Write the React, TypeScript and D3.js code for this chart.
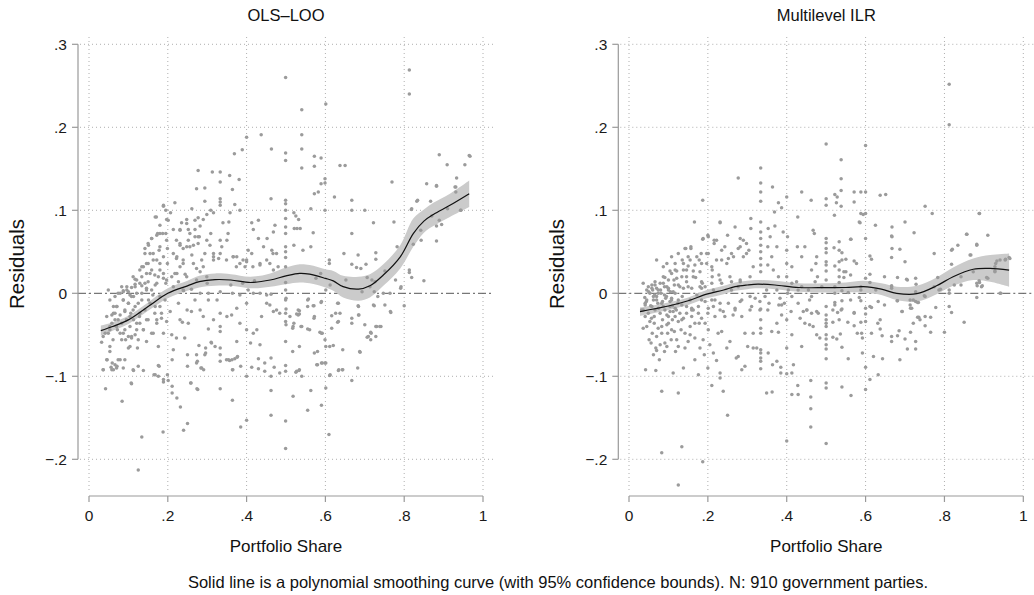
import React, { useEffect, useRef } from 'react';
import * as d3 from 'd3';

// tick values + labels (Stata style, leading zero dropped)
const xTicks = [0, 0.2, 0.4, 0.6, 0.8, 1];
const xTickLabels = ['0', '.2', '.4', '.6', '.8', '1'];
const yTicks = [-0.2, -0.1, 0, 0.1, 0.2, 0.3];
const yTickLabels = ['\u2212.2', '\u2212.1', '0', '.1', '.2', '.3'];

// OLS-LOO smoothing curve + 95% bounds
const olsFitX = [0.03, 0.06, 0.1, 0.15, 0.2, 0.25, 0.28, 0.32, 0.36, 0.41, 0.46, 0.5, 0.535, 0.56, 0.6, 0.62, 0.645, 0.684, 0.713, 0.747, 0.79, 0.823, 0.85, 0.874, 0.916, 0.965];
const olsFit = [-0.045, -0.04, -0.032, -0.016, 0, 0.009, 0.014, 0.0165, 0.016, 0.013, 0.016, 0.021, 0.024, 0.023, 0.018, 0.015, 0.008, 0.005, 0.009, 0.022, 0.044, 0.072, 0.087, 0.095, 0.106, 0.12];
const olsLo = [-0.051, -0.045, -0.037, -0.021, -0.006, 0.003, 0.007, 0.009, 0.009, 0.006, 0.008, 0.011, 0.013, 0.012, 0.007, 0.003, -0.005, -0.009, -0.005, 0.009, 0.03, 0.056, 0.073, 0.081, 0.092, 0.104];
const olsHi = [-0.039, -0.035, -0.027, -0.011, 0.006, 0.015, 0.021, 0.024, 0.023, 0.02, 0.024, 0.031, 0.035, 0.034, 0.029, 0.027, 0.021, 0.02, 0.023, 0.035, 0.058, 0.09, 0.101, 0.109, 0.12, 0.136];

// Multilevel ILR smoothing curve + 95% bounds
const ilrFitX = [0.028, 0.1, 0.15, 0.197, 0.24, 0.269, 0.3, 0.327, 0.37, 0.43, 0.497, 0.55, 0.594, 0.64, 0.679, 0.73, 0.78, 0.822, 0.873, 0.916, 0.964];
const ilrFit = [-0.022, -0.0153, -0.009, -0.001, 0.004, 0.008, 0.01, 0.011, 0.01, 0.007, 0.0068, 0.007, 0.008, 0.005, 0, -0.0005, 0.009, 0.02, 0.029, 0.03, 0.028];
const ilrLo = [-0.027, -0.02, -0.014, -0.006, -0.001, 0.003, 0.005, 0.006, 0.005, 0.002, 0.001, 0.001, 0.001, -0.002, -0.008, -0.01, -0.001, 0.009, 0.016, 0.014, 0.008];
const ilrHi = [-0.017, -0.011, -0.005, 0.004, 0.009, 0.013, 0.015, 0.016, 0.015, 0.012, 0.012, 0.013, 0.015, 0.012, 0.008, 0.009, 0.019, 0.031, 0.042, 0.046, 0.048];

// residuals: [portfolio share, residual]
const olsPoints = [
  [0.499, 0.26], [0.813, 0.269], [0.813, 0.24], [0.601, 0.228], [0.54, 0.221], [0.54, 0.191], [0.437, 0.191], [0.4, 0.188], [0.54, 0.174], [0.463, 0.174],
  [0.389, 0.173], [0.369, 0.168], [0.499, 0.169], [0.499, 0.16], [0.572, 0.165], [0.589, 0.163], [0.54, 0.151], [0.572, 0.153], [0.637, 0.154], [0.65, 0.154],
  [0.889, 0.167], [0.965, 0.166], [0.909, 0.155], [0.954, 0.155], [0.277, 0.148], [0.313, 0.146], [0.333, 0.146], [0.333, 0.134], [0.357, 0.142], [0.381, 0.137],
  [0.273, 0.126], [0.294, 0.127], [0.364, 0.125], [0.599, 0.138], [0.599, 0.133], [0.589, 0.132], [0.582, 0.122], [0.572, 0.12], [0.769, 0.134], [0.933, 0.139],
  [0.929, 0.128], [0.882, 0.13], [0.857, 0.132], [0.832, 0.111], [0.867, 0.111], [0.818, 0.101], [0.943, 0.1], [0.623, 0.116], [0.667, 0.112], [0.667, 0.1],
  [0.7, 0.1], [0.599, 0.1], [0.563, 0.102], [0.462, 0.114],
  [0.499, 0.112], [0.499, 0.108], [0.499, 0.1], [0.499, 0.09], [0.499, 0.08], [0.499, 0.072], [0.499, 0.056], [0.499, 0.05], [0.499, 0.043], [0.499, 0.032], [0.499, 0.013],
  [0.52, 0.097], [0.525, 0.093], [0.532, 0.089], [0.521, 0.078], [0.528, 0.078], [0.536, 0.078], [0.569, 0.073], [0.563, 0.056], [0.543, 0.052], [0.52, 0.058],
  [0.413, 0.085], [0.43, 0.088], [0.417, 0.077], [0.43, 0.066], [0.452, 0.066], [0.468, 0.074], [0.472, 0.082], [0.443, 0.056], [0.464, 0.052], [0.476, 0.048],
  [0.404, 0.052], [0.413, 0.048], [0.4, 0.038], [0.396, 0.032], [0.434, 0.034], [0.459, 0.036], [0.468, 0.028], [0.48, 0.032],
  [0.37, 0.107], [0.383, 0.1], [0.358, 0.097], [0.34, 0.085], [0.355, 0.086], [0.353, 0.072], [0.333, 0.064], [0.35, 0.064], [0.337, 0.056], [0.366, 0.044],
  [0.375, 0.044], [0.383, 0.036], [0.391, 0.04], [0.329, 0.042], [0.316, 0.04], [0.316, 0.048],
  [0.333, 0.114], [0.333, 0.11], [0.333, 0.106], [0.309, 0.1], [0.316, 0.097], [0.294, 0.111], [0.299, 0.095], [0.29, 0.089], [0.309, 0.072], [0.307, 0.058],
  [0.294, 0.048], [0.286, 0.04], [0.273, 0.03], [0.282, 0.026], [0.261, 0.046],
  [0.277, 0.091], [0.282, 0.081], [0.269, 0.077], [0.256, 0.072], [0.269, 0.068], [0.28, 0.068], [0.252, 0.064], [0.265, 0.058], [0.277, 0.06], [0.248, 0.056],
  [0.239, 0.054], [0.248, 0.089], [0.235, 0.085], [0.231, 0.077], [0.252, 0.077], [0.261, 0.102],
  [0.218, 0.109], [0.195, 0.1], [0.207, 0.097], [0.197, 0.089], [0.214, 0.077], [0.195, 0.072], [0.222, 0.064], [0.231, 0.058], [0.199, 0.054], [0.214, 0.048],
  [0.222, 0.042], [0.199, 0.036], [0.231, 0.032], [0.218, 0.024], [0.239, 0.036], [0.244, 0.023], [0.21, 0.02], [0.227, 0.014], [0.195, 0.012],
  [0.171, 0.092], [0.189, 0.105], [0.18, 0.082], [0.174, 0.072], [0.187, 0.072], [0.159, 0.066], [0.15, 0.06], [0.142, 0.054], [0.178, 0.052], [0.163, 0.048],
  [0.189, 0.044], [0.172, 0.04], [0.15, 0.036], [0.138, 0.032], [0.159, 0.028], [0.18, 0.028], [0.146, 0.024], [0.167, 0.022], [0.134, 0.02], [0.189, 0.018],
  [0.121, 0.016], [0.15, 0.014], [0.172, 0.012], [0.117, 0.011], [0.134, 0.009], [0.108, 0.007], [0.146, 0.004], [0.1, 0.002], [0.121, 0], [0.087, 0.003],
  [0.282, 0], [0.303, 0], [0.333, 0.002], [0.364, 0], [0.383, -0.002], [0.404, 0.004], [0.417, 0], [0.434, 0], [0.451, -0.002], [0.462, -0.001],
  [0.499, 0.004], [0.36, 0.01], [0.39, 0.012], [0.42, 0.015], [0.3, 0.012], [0.26, 0.005], [0.24, 0.003],
  [0.125, -0.213], [0.134, -0.173], [0.084, -0.13], [0.042, -0.115], [0.108, -0.109], [0.188, -0.167], [0.24, -0.165], [0.25, -0.157], [0.232, -0.137], [0.223, -0.126],
  [0.211, -0.12], [0.211, -0.112], [0.201, -0.105], [0.189, -0.104], [0.176, -0.1], [0.258, -0.108], [0.276, -0.116], [0.333, -0.115], [0.364, -0.129], [0.385, -0.161],
  [0.4, -0.153], [0.462, -0.147], [0.499, -0.154], [0.499, -0.187], [0.462, -0.117], [0.518, -0.124], [0.563, -0.117], [0.555, -0.141], [0.59, -0.135], [0.601, -0.114],
  [0.609, -0.17], [0.667, -0.105], [0.682, -0.09], [0.634, -0.092], [0.644, -0.092], [0.611, -0.099], [0.599, -0.084], [0.59, -0.084], [0.578, -0.086], [0.54, -0.1],
  [0.533, -0.093], [0.525, -0.095], [0.499, -0.094], [0.499, -0.087], [0.484, -0.096], [0.47, -0.089], [0.462, -0.1], [0.446, -0.094], [0.43, -0.091], [0.413, -0.089],
  [0.364, -0.092], [0.349, -0.08], [0.357, -0.081], [0.37, -0.079], [0.377, -0.076], [0.333, -0.082], [0.333, -0.074], [0.333, -0.066], [0.31, -0.059], [0.296, -0.066],
  [0.284, -0.09], [0.291, -0.092], [0.273, -0.084], [0.25, -0.088], [0.25, -0.074], [0.273, -0.074], [0.279, -0.063], [0.211, -0.08], [0.199, -0.098], [0.165, -0.098],
  [0.176, -0.087], [0.138, -0.093], [0.113, -0.093], [0.125, -0.088], [0.091, -0.08], [0.079, -0.08], [0.066, -0.086], [0.058, -0.092], [0.036, -0.092], [0.046, -0.08],
  [0.071, -0.088], [0.4, -0.1], [0.43, -0.079], [0.446, -0.084], [0.462, -0.078], [0.385, -0.088],
  [0.032, -0.059], [0.036, -0.052], [0.049, -0.048], [0.053, -0.064], [0.061, -0.056], [0.053, -0.04], [0.066, -0.032], [0.071, -0.016], [0.072, -0.044], [0.079, -0.026],
  [0.083, -0.036], [0.087, -0.008], [0.087, -0.048], [0.091, -0.022], [0.093, -0.056], [0.095, -0.032], [0.1, -0.012], [0.104, -0.04], [0.106, -0.024], [0.108, -0.052],
  [0.113, -0.004], [0.113, -0.032], [0.117, -0.016], [0.121, -0.044], [0.123, -0.066], [0.1, -0.066], [0.128, -0.028], [0.129, -0.036], [0.134, -0.008], [0.138, -0.044],
  [0.142, -0.02], [0.146, -0.058], [0.15, -0.032], [0.155, -0.012], [0.159, -0.048], [0.162, -0.002], [0.167, -0.024], [0.172, -0.036], [0.176, -0.064], [0.18, -0.016],
  [0.184, -0.03], [0.189, -0.048], [0.193, -0.008], [0.197, -0.034], [0.206, -0.022], [0.21, -0.05], [0.214, -0.068], [0.222, -0.054], [0.227, -0.012], [0.231, -0.032],
  [0.237, -0.035], [0.243, -0.054], [0.249, -0.02], [0.252, -0.036], [0.26, -0.022], [0.269, -0.008], [0.282, -0.02], [0.29, -0.028], [0.303, -0.008], [0.303, -0.043],
  [0.316, -0.032], [0.325, -0.008], [0.333, -0.024], [0.333, -0.04], [0.333, -0.046], [0.35, -0.028], [0.362, -0.026], [0.375, -0.018], [0.375, -0.058], [0.383, -0.036],
  [0.4, -0.012], [0.4, -0.044], [0.41, -0.06], [0.417, -0.048], [0.426, -0.044], [0.434, -0.062], [0.438, -0.028], [0.451, -0.012], [0.459, -0.014], [0.468, -0.022],
  [0.476, -0.02], [0.484, -0.024], [0.499, -0.008], [0.499, -0.024], [0.499, -0.034], [0.499, -0.058], [0.51, -0.028], [0.518, -0.04], [0.531, -0.02], [0.531, -0.026],
  [0.54, -0.04], [0.555, -0.016], [0.56, -0.044], [0.572, -0.028], [0.58, -0.07], [0.59, -0.01], [0.59, -0.048], [0.599, -0.056], [0.611, -0.064], [0.616, -0.042],
  [0.62, -0.063], [0.633, -0.034], [0.637, -0.024], [0.644, -0.068], [0.667, -0.03], [0.667, -0.036], [0.684, -0.026], [0.687, -0.07], [0.7, -0.038], [0.709, -0.052],
  [0.716, -0.048], [0.722, -0.014], [0.728, -0.052], [0.73, -0.04], [0.741, -0.04], [0.751, -0.014], [0.765, -0.022], [0.8, -0.015],
  [0.722, 0.085], [0.774, 0.086], [0.667, 0.072], [0.647, 0.048], [0.683, 0.046], [0.667, 0.035], [0.69, 0.03], [0.703, 0.035], [0.728, 0.049], [0.728, 0.041],
  [0.751, 0.027], [0.782, 0.056], [0.813, 0.028], [0.813, 0.025], [0.819, 0.019], [0.85, 0.015], [0.791, 0.006], [0.778, 0.016], [0.764, 0], [0.747, 0],
  [0.733, -0.004], [0.724, 0.002], [0.713, 0.008], [0.706, 0.019], [0.718, 0.016], [0.726, 0.014], [0.693, 0.002], [0.652, 0.016], [0.612, 0.01], [0.588, 0.024],
  [0.576, 0.018], [0.557, -0.007], [0.569, -0.015], [0.589, -0.011], [0.633, -0.012], [0.684, -0.016], [0.724, -0.015], [0.61, 0.04], [0.61, 0.036], [0.882, 0.129],
  [0.87, 0.093], [0.889, 0.088], [0.895, 0.083], [0.882, 0.081], [0.882, 0.063], [0.843, 0.064], [0.823, 0.059], [0.842, 0.076], [0.931, 0.128], [0.931, 0.122],
  [0.944, 0.1], [0.91, 0.102], [0.967, 0.165], [0.834, 0.112], [0.819, 0.102], [0.679, 0.031],
  [0.792, 0.008], [0.766, -0.023], [0.738, -0.04], [0.728, -0.04], [0.715, -0.047], [0.706, -0.053], [0.715, -0.056], [0.688, -0.071], [0.685, -0.026], [0.683, -0.015],
  [0.643, -0.092], [0.633, -0.093], [0.612, -0.098], [0.601, -0.064], [0.601, -0.084], [0.592, -0.084], [0.58, -0.086], [0.592, -0.048], [0.586, -0.047], [0.5, -0.038],
  [0.5, -0.019], [0.5, -0.006], [0.517, -0.042], [0.52, -0.036], [0.538, -0.04], [0.555, -0.043], [0.527, -0.025], [0.534, -0.025], [0.571, -0.03], [0.571, -0.015],
  [0.555, -0.008], [0.534, -0.021], [0.616, -0.027], [0.631, -0.012], [0.626, -0.024], [0.631, -0.035], [0.601, 0.004], [0.517, -0.07], [0.534, -0.064], [0.572, -0.072],
  [0.527, -0.094], [0.534, -0.092],
  [0.036, -0.092], [0.045, -0.08], [0.053, -0.07], [0.056, -0.089], [0.058, -0.026], [0.059, -0.084], [0.062, -0.092], [0.07, -0.09], [0.074, -0.08], [0.087, -0.09],
  [0.107, -0.108], [0.112, -0.092], [0.168, -0.098], [0.178, -0.088], [0.189, -0.107], [0.259, -0.108], [0.274, -0.115], [0.294, -0.074], [0.275, -0.082], [0.286, -0.09],
  [0.363, -0.08], [0.354, -0.08], [0.376, -0.077], [0.365, -0.092], [0.32, -0.064], [0.311, -0.06], [0.296, -0.072],
  [0.049, 0.004], [0.053, -0.008], [0.066, -0.004], [0.07, -0.016], [0.074, 0], [0.083, 0.008], [0.087, -0.008], [0.091, -0.02], [0.096, 0.004], [0.1, -0.012],
  [0.104, -0.028], [0.108, -0.004], [0.112, -0.02], [0.117, 0.008], [0.121, -0.036], [0.125, -0.012], [0.129, -0.024], [0.134, 0], [0.138, -0.044], [0.142, 0.012],
  [0.146, -0.032], [0.151, -0.008], [0.159, 0.004], [0.163, -0.048], [0.168, -0.016], [0.172, -0.032], [0.18, -0.004], [0.184, -0.024], [0.074, -0.032], [0.079, -0.048],
  [0.083, -0.056], [0.091, -0.044], [0.1, -0.052], [0.108, -0.054], [0.117, -0.05], [0.125, -0.056], [0.104, -0.064], [0.053, -0.044], [0.058, -0.036], [0.041, -0.048],
  [0.045, -0.028], [0.062, -0.024], [0.07, -0.04],
  [0.087, 0.002], [0.104, -0.002], [0.117, 0.017], [0.134, 0.032], [0.142, 0.048], [0.151, 0.058], [0.159, 0.066], [0.172, 0.07], [0.18, 0.056], [0.155, 0.024],
  [0.168, 0.01], [0.129, 0.012], [0.146, 0.006], [0.18, 0.036], [0.189, 0.024], [0.163, 0.04], [0.176, 0.02], [0.197, 0.016], [0.201, 0.088], [0.189, 0.106], [0.168, 0.092],
  [0.231, 0.076], [0.248, 0.084], [0.269, 0.088], [0.231, 0.06], [0.256, 0.056], [0.277, 0.068], [0.299, 0.064], [0.223, 0.044], [0.239, 0.04], [0.265, 0.036],
  [0.29, 0.032], [0.316, 0.044], [0.333, 0.048], [0.349, 0.04], [0.366, 0.044], [0.374, 0.032], [0.4, 0.04], [0.416, 0.032], [0.434, 0.036], [0.451, 0.04],
  [0.467, 0.048], [0.223, 0.024], [0.248, 0.02], [0.273, 0.016], [0.299, 0.02], [0.214, 0.008], [0.239, 0.004], [0.197, 0.064], [0.18, 0.072], [0.155, 0.048],
  [0.146, 0.036], [0.129, 0.028], [0.112, 0.02], [0.096, 0.008], [0.079, 0], [0.062, -0.016], [0.066, -0.024],
];

const ilrPoints = [
  [0.812, 0.252], [0.812, 0.203], [0.5, 0.18], [0.6, 0.178], [0.538, 0.161], [0.538, 0.138], [0.538, 0.124], [0.334, 0.151], [0.334, 0.133], [0.334, 0.122],
  [0.334, 0.111], [0.364, 0.128], [0.277, 0.139], [0.438, 0.122], [0.462, 0.112], [0.5, 0.114], [0.5, 0.106], [0.522, 0.119], [0.528, 0.116], [0.526, 0.109],
  [0.538, 0.105], [0.571, 0.122], [0.571, 0.11], [0.588, 0.122], [0.6, 0.122], [0.637, 0.118], [0.651, 0.119], [0.6, 0.096], [0.594, 0.095], [0.586, 0.085],
  [0.563, 0.065], [0.625, 0.082], [0.667, 0.08], [0.667, 0.068], [0.667, 0.054], [0.666, 0.043], [0.7, 0.086], [0.723, 0.073], [0.687, 0.053], [0.7, 0.038],
  [0.751, 0.105], [0.769, 0.096], [0.774, 0.048], [0.6, 0.066], [0.611, 0.045], [0.615, 0.041], [0.648, 0.02], [0.681, 0.019], [0.704, 0.017], [0.727, 0.018],
  [0.783, 0.019], [0.82, 0.053], [0.834, 0.058], [0.856, 0.071], [0.865, 0.046], [0.882, 0.058], [0.888, 0.096], [0.91, 0.07], [0.93, 0.036], [0.941, 0.04],
  [0.955, 0.041], [0.964, 0.043], [0.928, 0.026], [0.907, 0.019], [0.889, 0.013], [0.883, 0.009], [0.896, 0.009], [0.842, 0.01], [0.825, 0.01], [0.818, 0.035],
  [0.774, 0.008], [0.749, -0.003], [0.786, 0.004], [0.812, 0], [0.941, 0], [0.882, -0.005],
  [0.4, 0.116], [0.379, 0.109], [0.369, 0.098], [0.387, 0.103], [0.428, 0.092], [0.166, 0.086], [0.231, 0.086], [0.309, 0.09], [0.309, 0.078], [0.334, 0.086],
  [0.334, 0.074], [0.334, 0.066], [0.334, 0.058], [0.334, 0.05], [0.334, 0.042], [0.334, 0.034], [0.334, 0.026], [0.353, 0.078], [0.37, 0.081], [0.358, 0.068],
  [0.352, 0.056], [0.375, 0.056], [0.362, 0.044], [0.352, 0.034], [0.366, 0.028], [0.379, 0.02], [0.391, 0.074], [0.402, 0.068], [0.4, 0.052], [0.4, 0.036],
  [0.413, 0.032], [0.427, 0.056], [0.446, 0.056], [0.438, 0.044], [0.467, 0.076], [0.47, 0.072], [0.476, 0.044], [0.474, 0.036], [0.463, 0.028], [0.478, 0.02],
  [0.29, 0.064], [0.298, 0.06], [0.282, 0.066], [0.269, 0.08], [0.277, 0.054], [0.304, 0.052], [0.29, 0.044], [0.26, 0.048], [0.252, 0.042], [0.25, 0.07],
  [0.243, 0.056], [0.235, 0.04], [0.222, 0.064], [0.216, 0.06], [0.201, 0.068], [0.188, 0.066], [0.201, 0.048], [0.197, 0.036], [0.211, 0.028], [0.211, 0.02],
  [0.228, 0.022], [0.183, 0.048], [0.178, 0.04], [0.167, 0.034], [0.18, 0.026], [0.163, 0.02], [0.186, 0.012], [0.157, 0.056], [0.144, 0.054], [0.15, 0.044],
  [0.138, 0.036], [0.146, 0.028], [0.134, 0.02], [0.15, 0.008], [0.117, 0.028], [0.121, 0.018], [0.108, 0.024], [0.1, 0.016], [0.096, 0.008], [0.087, 0.02],
  [0.079, 0.012], [0.074, 0], [0.066, 0.014], [0.058, 0.006], [0.053, 0], [0.062, -0.004], [0.07, -0.008], [0.041, -0.012], [0.036, -0.02], [0.083, -0.012],
  [0.091, -0.02], [0.108, -0.006], [0.125, -0.008], [0.104, -0.022], [0.159, -0.02], [0.176, -0.024], [0.184, -0.008], [0.218, -0.008], [0.231, -0.012], [0.239, -0.022],
  [0.26, 0.004], [0.277, 0.008], [0.286, -0.008], [0.269, -0.02], [0.307, -0.004], [0.311, -0.016], [0.332, -0.01], [0.332, -0.02], [0.349, 0.004], [0.355, -0.012],
  [0.375, 0.004], [0.383, -0.006], [0.387, -0.014], [0.404, 0.004], [0.413, -0.004], [0.429, 0.004], [0.451, -0.02], [0.455, 0.004], [0.463, -0.004], [0.476, -0.022],
  [0.489, 0.008], [0.472, 0.014], [0.4, 0.02], [0.413, 0.012], [0.425, 0.014], [0.438, 0.008], [0.282, 0.016], [0.26, 0.014], [0.235, 0.012], [0.193, 0.008], [0.214, 0.004],
  [0.521, 0.094], [0.588, 0.096], [0.584, 0.086], [0.666, 0.069], [0.562, 0.065], [0.5, 0.066], [0.5, 0.061], [0.5, 0.054], [0.5, 0.049], [0.5, 0.038],
  [0.5, 0.034], [0.5, 0.027], [0.5, 0.016], [0.52, 0.055], [0.533, 0.062], [0.533, 0.052], [0.54, 0.049], [0.55, 0.041], [0.54, 0.04], [0.533, 0.038],
  [0.522, 0.033], [0.571, 0.039], [0.577, 0.036], [0.533, 0.028], [0.545, 0.026], [0.55, 0.026], [0.562, 0.022], [0.533, 0.02], [0.545, 0.019], [0.611, 0.023],
  [0.611, 0.013], [0.588, 0.008], [0.588, 0.004], [0.6, 0.018], [0.706, 0.016], [0.728, 0.011], [0.727, 0.002], [0.666, 0.009], [0.666, 0.006], [0.626, 0.004],
  [0.556, 0.001], [0.54, 0.003], [0.533, 0.013], [0.522, 0.008], [0.522, 0], [0.818, 0.052], [0.857, 0.071], [0.889, 0.096], [0.882, 0.059], [0.867, 0.046],
  [0.842, 0.02], [0.79, 0.005], [0.812, 0.004], [0.873, 0.026], [0.882, 0.012], [0.888, 0.015], [0.894, 0.008], [0.91, 0.018], [0.928, 0.027], [0.933, 0.039],
  [0.954, 0.04], [0.966, 0.042], [0.928, 0.032], [0.943, 0], [0.751, -0.004], [0.778, -0.017], [0.812, -0.016], [0.818, -0.023], [0.68, -0.009], [0.632, -0.01],
  [0.648, -0.014], [0.611, -0.016], [0.6, -0.018], [0.6, -0.025], [0.588, -0.009], [0.584, -0.005], [0.562, -0.008], [0.54, -0.009], [0.54, -0.019], [0.522, -0.014],
  [0.5, -0.016], [0.5, -0.026], [0.517, -0.02], [0.571, -0.023], [0.615, -0.017], [0.713, -0.014], [0.717, -0.018], [0.721, -0.008], [0.732, -0.011], [0.693, -0.022],
  [0.735, -0.029], [0.751, -0.028], [0.765, -0.029],
  [0.5, -0.032], [0.5, -0.036], [0.5, -0.04], [0.5, -0.05], [0.5, -0.055], [0.5, -0.062], [0.5, -0.067], [0.5, -0.079], [0.5, -0.108], [0.5, -0.114],
  [0.5, -0.181], [0.517, -0.035], [0.517, -0.053], [0.527, -0.055], [0.522, -0.011], [0.529, -0.023], [0.538, -0.02], [0.533, -0.032], [0.536, -0.049], [0.54, -0.065],
  [0.54, -0.113], [0.563, -0.123], [0.556, -0.079], [0.555, -0.035], [0.571, -0.024], [0.571, -0.039], [0.579, -0.048], [0.588, -0.035], [0.59, -0.048], [0.592, -0.054],
  [0.592, -0.072], [0.6, -0.034], [0.6, -0.089], [0.6, -0.116], [0.611, -0.104], [0.615, -0.048], [0.62, -0.076], [0.632, -0.098], [0.631, -0.036], [0.637, -0.032],
  [0.637, -0.043], [0.643, -0.079], [0.642, -0.051], [0.666, -0.052], [0.666, -0.058], [0.666, 0.008], [0.681, -0.051], [0.685, -0.045], [0.687, -0.08], [0.692, -0.022],
  [0.7, -0.055], [0.706, -0.067], [0.714, -0.047], [0.714, -0.018], [0.721, -0.036], [0.727, -0.058], [0.727, -0.067], [0.732, -0.029], [0.738, -0.032], [0.751, -0.039],
  [0.765, -0.047], [0.8, -0.047], [0.85, -0.035], [0.713, -0.008], [0.727, -0.01], [0.734, -0.011], [0.681, -0.009],
  [0.125, -0.231], [0.083, -0.192], [0.134, -0.185], [0.187, -0.203], [0.25, -0.147], [0.4, -0.178], [0.083, -0.118], [0.125, -0.12], [0.21, -0.111], [0.239, -0.118],
  [0.349, -0.12], [0.363, -0.119], [0.461, -0.161], [0.461, -0.139], [0.461, -0.125], [0.429, -0.122], [0.413, -0.122], [0.428, -0.111], [0.461, -0.105], [0.042, -0.092],
  [0.068, -0.093], [0.112, -0.096], [0.138, -0.09], [0.176, -0.098], [0.2, -0.09], [0.231, -0.096], [0.231, -0.102], [0.286, -0.092], [0.294, -0.088], [0.334, -0.091],
  [0.364, -0.086], [0.375, -0.082], [0.385, -0.089], [0.385, -0.096], [0.4, -0.097], [0.413, -0.096], [0.417, -0.086],
  [0.032, -0.02], [0.036, -0.042], [0.045, -0.04], [0.041, -0.014], [0.049, -0.024], [0.051, -0.056], [0.056, -0.06], [0.057, -0.03], [0.059, -0.048], [0.062, -0.008],
  [0.062, -0.074], [0.064, -0.036], [0.066, -0.02], [0.068, -0.066], [0.07, -0.069], [0.073, -0.012], [0.074, -0.042], [0.077, -0.08], [0.079, -0.024], [0.081, 0],
  [0.083, -0.048], [0.085, -0.032], [0.087, -0.016], [0.09, -0.07], [0.091, -0.06], [0.093, -0.006], [0.096, -0.026], [0.098, -0.048], [0.1, -0.036], [0.104, -0.016],
  [0.107, -0.056], [0.108, -0.008], [0.11, -0.032], [0.112, -0.022], [0.115, -0.046], [0.117, 0], [0.118, -0.07], [0.121, -0.056], [0.124, -0.012], [0.125, -0.034],
  [0.129, -0.024], [0.132, -0.044], [0.135, -0.004], [0.138, -0.03], [0.142, -0.048], [0.146, -0.016], [0.15, -0.058], [0.155, -0.008], [0.159, -0.028], [0.163, -0.02],
  [0.167, -0.054], [0.167, -0.08], [0.176, -0.016], [0.178, -0.036], [0.18, -0.066], [0.184, -0.03], [0.188, -0.056], [0.191, -0.074], [0.193, -0.01], [0.2, -0.024],
  [0.201, -0.044], [0.205, -0.062], [0.214, -0.072], [0.214, -0.016], [0.218, -0.028], [0.222, -0.081], [0.226, -0.048], [0.231, -0.02], [0.235, -0.046], [0.243, -0.028],
  [0.248, -0.066], [0.252, -0.012], [0.256, -0.058], [0.264, -0.026], [0.269, -0.018], [0.272, -0.078], [0.277, -0.076], [0.282, -0.01], [0.286, -0.028], [0.294, -0.048],
  [0.301, -0.064], [0.307, -0.02], [0.315, -0.048], [0.315, -0.066], [0.32, -0.006], [0.324, -0.066], [0.334, -0.019], [0.334, -0.032], [0.334, -0.042], [0.334, -0.048],
  [0.334, -0.068], [0.334, -0.072], [0.334, -0.078], [0.334, -0.082], [0.345, -0.004], [0.352, -0.02], [0.353, -0.072], [0.362, -0.046], [0.375, -0.036], [0.379, -0.047],
  [0.38, -0.014], [0.387, -0.026], [0.394, -0.012], [0.4, -0.066], [0.4, -0.032], [0.402, 0], [0.411, -0.022], [0.413, -0.05], [0.429, -0.012], [0.434, -0.03],
  [0.438, -0.064], [0.442, -0.022], [0.446, -0.036], [0.451, -0.02], [0.458, -0.038], [0.463, -0.024], [0.467, -0.04], [0.476, -0.05], [0.48, -0.024], [0.484, -0.054],
  [0.458, -0.008],
  [0.187, 0.112], [0.231, 0.085], [0.142, 0.054], [0.157, 0.054], [0.187, 0.065], [0.2, 0.07], [0.216, 0.064], [0.135, 0.04], [0.15, 0.033], [0.121, 0.027],
  [0.104, 0.027], [0.091, 0.019], [0.058, 0.01], [0.045, 0.004], [0.163, 0.027], [0.169, 0.019], [0.18, 0.008], [0.114, 0.016], [0.129, 0.008], [0.146, 0.02], [0.1, 0.004],
  [0.04, -0.005], [0.044, -0.01], [0.05, 0.002], [0.055, -0.015], [0.06, 0.004], [0.065, -0.002], [0.07, 0.006], [0.075, -0.018], [0.08, 0.004], [0.085, -0.01],
  [0.09, 0.008], [0.095, -0.004], [0.1, -0.028], [0.105, 0.002], [0.11, -0.015], [0.115, 0.01], [0.12, -0.02],
  [0.036, 0.012], [0.049, 0.008], [0.066, 0.01], [0.074, 0.004], [0.087, 0.012], [0.1, 0.006], [0.112, 0.002], [0.125, 0.01], [0.138, 0.006], [0.146, 0.014],
  [0.159, 0.006], [0.172, -0.002], [0.184, 0.006], [0.041, -0.028], [0.053, -0.034], [0.07, -0.052], [0.079, -0.062], [0.096, -0.064], [0.108, -0.044], [0.125, -0.064],
  [0.142, -0.066], [0.155, -0.04], [0.167, -0.036], [0.193, -0.036], [0.201, -0.018], [0.21, -0.008], [0.045, -0.008], [0.058, -0.016], [0.07, -0.004], [0.09, -0.002],
  [0.104, -0.01], [0.117, -0.018], [0.134, -0.014], [0.146, -0.024], [0.159, -0.018], [0.096, -0.038], [0.083, -0.04], [0.064, -0.028], [0.117, -0.028], [0.134, -0.032],
  [0.155, -0.05],
  [0.07, 0.04], [0.087, 0.032], [0.096, 0.036], [0.108, 0.044], [0.117, 0.036], [0.125, 0.048], [0.138, 0.028], [0.155, 0.04], [0.172, 0.044], [0.184, 0.036],
  [0.197, 0.048], [0.21, 0.032], [0.222, 0.04], [0.235, 0.052], [0.248, 0.036], [0.265, 0.044], [0.282, 0.056], [0.298, 0.048], [0.315, 0.032], [0.231, 0.016],
  [0.256, 0.02], [0.282, 0.014], [0.307, 0.02], [0.21, 0.012], [0.184, 0.014],
];

const FONT = '"Liberation Sans", Arial, Helvetica, sans-serif';

// one Stata-like panel; axisX = position of the y axis line, x0/x1 = pixel span of 0..1
const drawPanel = (svg, opts) => {
  const { axisX, x0, x1, title, points, fitX, fit, lo, hi } = opts;
  const right = x1 + 11;
  const top = 37;
  const bottom = 491;
  const axisY = 496;

  const x = d3.scaleLinear().domain([0, 1]).range([x0, x1]);
  const y = d3.scaleLinear().domain([-0.2, 0.3]).range([459.3, 44.3]);

  const g = svg.append('g');

  // dotted grid
  g.selectAll('line.vgrid')
    .data(xTicks)
    .join('line')
    .attr('x1', d => x(d)).attr('x2', d => x(d))
    .attr('y1', top).attr('y2', bottom)
    .attr('stroke', '#9a9a9a').attr('stroke-width', 0.8)
    .attr('stroke-dasharray', '1,3');

  g.selectAll('line.hgrid')
    .data(yTicks.filter(d => d !== 0))
    .join('line')
    .attr('x1', axisX + 2).attr('x2', right)
    .attr('y1', d => y(d)).attr('y2', d => y(d))
    .attr('stroke', '#9a9a9a').attr('stroke-width', 0.8)
    .attr('stroke-dasharray', '1,3');

  // zero reference line
  g.append('line')
    .attr('x1', axisX).attr('x2', right)
    .attr('y1', y(0)).attr('y2', y(0))
    .attr('stroke', '#555').attr('stroke-width', 1)
    .attr('stroke-dasharray', '8,3,2,3');

  const rows = fitX.map((v, i) => ({ x: v, f: fit[i], lo: lo[i], hi: hi[i] }));

  // confidence band
  const area = d3.area()
    .x(d => x(d.x))
    .y0(d => y(d.lo))
    .y1(d => y(d.hi))
    .curve(d3.curveCatmullRom.alpha(0.5));
  g.append('path')
    .datum(rows)
    .attr('d', area)
    .attr('fill', '#cbcbcb');

  // scatter
  g.selectAll('circle')
    .data(points)
    .join('circle')
    .attr('cx', d => x(d[0]))
    .attr('cy', d => y(d[1]))
    .attr('r', 1.75)
    .attr('fill', '#9b9b9b');

  // smoothing curve
  const line = d3.line()
    .x(d => x(d.x))
    .y(d => y(d.f))
    .curve(d3.curveCatmullRom.alpha(0.5));
  g.append('path')
    .datum(rows)
    .attr('d', line)
    .attr('fill', 'none')
    .attr('stroke', '#111')
    .attr('stroke-width', 1.2);

  // y axis
  g.append('line')
    .attr('x1', axisX).attr('x2', axisX)
    .attr('y1', y(0.3)).attr('y2', y(-0.2))
    .attr('stroke', '#999').attr('stroke-width', 1.2);
  g.selectAll('line.ytick')
    .data(yTicks)
    .join('line')
    .attr('x1', axisX - 6).attr('x2', axisX)
    .attr('y1', d => y(d)).attr('y2', d => y(d))
    .attr('stroke', '#999').attr('stroke-width', 1.2);
  g.selectAll('text.ylab')
    .data(yTicks)
    .join('text')
    .attr('x', axisX - 11)
    .attr('y', d => y(d))
    .attr('dy', '0.36em')
    .attr('text-anchor', 'end')
    .attr('font-size', 15.5)
    .attr('fill', '#1a1a1a')
    .text((d, i) => yTickLabels[i]);

  // x axis
  g.append('line')
    .attr('x1', x0).attr('x2', x1)
    .attr('y1', axisY).attr('y2', axisY)
    .attr('stroke', '#999').attr('stroke-width', 1.2);
  g.selectAll('line.xtick')
    .data(xTicks)
    .join('line')
    .attr('x1', d => x(d)).attr('x2', d => x(d))
    .attr('y1', axisY).attr('y2', axisY + 6)
    .attr('stroke', '#999').attr('stroke-width', 1.2);
  g.selectAll('text.xlab')
    .data(xTicks)
    .join('text')
    .attr('x', d => x(d))
    .attr('y', 521)
    .attr('text-anchor', 'middle')
    .attr('font-size', 15.5)
    .attr('fill', '#1a1a1a')
    .text((d, i) => xTickLabels[i]);

  const mid = (axisX + right) / 2;

  // titles
  g.append('text')
    .attr('x', mid).attr('y', 21)
    .attr('text-anchor', 'middle')
    .attr('font-size', 16.5)
    .attr('fill', '#111')
    .text(title);

  g.append('text')
    .attr('x', mid).attr('y', 552)
    .attr('text-anchor', 'middle')
    .attr('font-size', 17)
    .attr('fill', '#111')
    .text('Portfolio Share');

  g.append('text')
    .attr('transform', `translate(${axisX - 54},264) rotate(-90)`)
    .attr('text-anchor', 'middle')
    .attr('font-size', 20.5)
    .attr('fill', '#111')
    .text('Residuals');
};

const ResidualPlots = () => {
  const svgRef = useRef(null);

  useEffect(() => {
    const svg = d3.select(svgRef.current);
    svg.selectAll('*').remove();

    drawPanel(svg, {
      axisX: 78, x0: 89, x1: 483, title: 'OLS\u2013LOO',
      points: olsPoints, fitX: olsFitX, fit: olsFit, lo: olsLo, hi: olsHi,
    });
    drawPanel(svg, {
      axisX: 618.3, x0: 629, x1: 1023.3, title: 'Multilevel ILR',
      points: ilrPoints, fitX: ilrFitX, fit: ilrFit, lo: ilrLo, hi: ilrHi,
    });

    svg.append('text')
      .attr('x', 558).attr('y', 588)
      .attr('text-anchor', 'middle')
      .attr('font-size', 16.5)
      .attr('fill', '#111')
      .text('Solid line is a polynomial smoothing curve (with 95% confidence bounds). N: 910 government parties.');
  }, []);

  return (
    <div style={{ position: 'absolute', left: 0, top: 0 }}>
      <svg
        ref={svgRef}
        width={1034}
        height={595}
        style={{ display: 'block', background: '#fff', fontFamily: FONT }}
      />
    </div>
  );
};

export default ResidualPlots;
